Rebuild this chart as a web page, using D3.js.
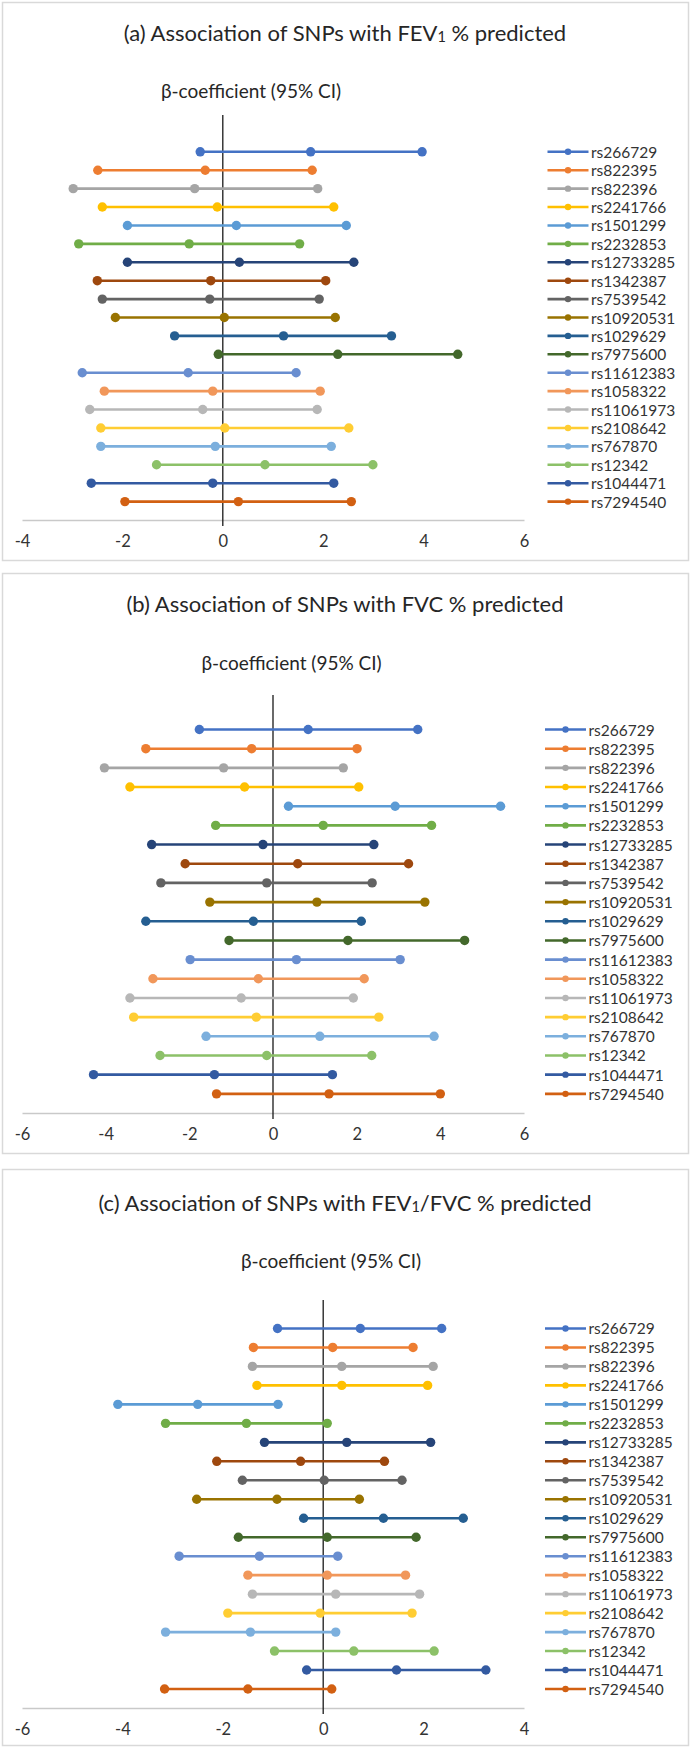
<!DOCTYPE html>
<html>
<head>
<meta charset="utf-8">
<script src="https://cdn.jsdelivr.net/npm/d3@7"></script>
<style>
  html, body { margin: 0; padding: 0; background: #fff; }
  svg { display: block; }
  text { font-family: Lato, "Open Sans", "Noto Sans", sans-serif; }
</style>
</head>
<body>
<svg id="chart" width="691" height="1747"></svg>
<script>
// ---- Data ----
const snps = ["rs266729","rs822395","rs822396","rs2241766","rs1501299","rs2232853","rs12733285","rs1342387","rs7539542","rs10920531","rs1029629","rs7975600","rs11612383","rs1058322","rs11061973","rs2108642","rs767870","rs12342","rs1044471","rs7294540"];

const seriesColors = ["#4472C4","#ED7D31","#A5A5A5","#FFC000","#5B9BD5","#70AD47","#264478","#9E480E","#636363","#997300","#255E91","#43682B","#698ED0","#F1975A","#B7B7B7","#FFCD33","#7CAFDD","#8CC168","#335AA1","#D26012"];

// (a) FEV1 % predicted
const fev1Lower = [-0.45,-2.49,-2.98,-2.40,-1.90,-2.87,-1.90,-2.50,-2.40,-2.14,-0.96,-0.09,-2.80,-2.36,-2.65,-2.43,-2.43,-1.32,-2.62,-1.95];
const fev1Beta  = [1.75,-0.35,-0.56,-0.11,0.27,-0.67,0.33,-0.24,-0.26,0.03,1.21,2.29,-0.69,-0.20,-0.40,0.04,-0.15,0.84,-0.20,0.31];
const fev1Upper = [3.97,1.78,1.89,2.21,2.46,1.53,2.61,2.05,1.92,2.24,3.36,4.68,1.46,1.94,1.88,2.51,2.16,2.99,2.21,2.56];
const fev1Ticks = [-4,-2,0,2,4,6];

// (b) FVC % predicted
const fvcLower = [-1.76,-3.04,-4.03,-3.42,0.37,-1.37,-2.90,-2.10,-2.68,-1.51,-3.04,-1.05,-1.98,-2.87,-3.42,-3.33,-1.60,-2.70,-4.29,-1.35];
const fvcBeta  = [0.84,-0.51,-1.18,-0.68,2.92,1.20,-0.24,0.59,-0.15,1.05,-0.47,1.79,0.56,-0.35,-0.76,-0.40,1.12,-0.15,-1.40,1.34];
const fvcUpper = [3.46,2.01,1.68,2.05,5.44,3.79,2.41,3.24,2.37,3.63,2.11,4.58,3.04,2.18,1.92,2.53,3.85,2.36,1.42,4.00];
const fvcTicks = [-6,-4,-2,0,2,4,6];

// (c) FEV1/FVC % predicted
const ratioLower = [-0.91,-1.39,-1.41,-1.32,-4.09,-3.14,-1.17,-2.12,-1.61,-2.52,-0.39,-1.69,-2.87,-1.50,-1.41,-1.90,-3.14,-0.97,-0.33,-3.16];
const ratioBeta  = [0.74,0.19,0.37,0.37,-2.50,-1.53,0.47,-0.45,0.02,-0.92,1.20,0.08,-1.27,0.08,0.25,-0.06,-1.45,0.61,1.46,-1.50];
const ratioUpper = [2.36,1.79,2.19,2.08,-0.90,0.08,2.14,1.22,1.57,0.72,2.79,1.85,0.29,1.64,1.92,1.77,0.25,2.21,3.24,0.17];
const ratioTicks = [-6,-4,-2,0,2,4];

const yLabel = "β-coefficient (95% CI)";

// ---- Layout (per panel) ----
const panels = [
  { titlePre: "(a) Association of SNPs with FEV", sub: "1", titlePost: " % predicted",
    lower: fev1Lower, beta: fev1Beta, upper: fev1Upper, ticks: fev1Ticks,
    frame: [2, 560], titleY: 32, labelX: 251, labelY: 90,
    x0: 22, x1: 524, top: 115, axisY: 520, yMax: 22, legX: [547.5, 588.5, 591] },
  { titlePre: "(b) Association of SNPs with FVC % predicted", sub: null, titlePost: "",
    lower: fvcLower, beta: fvcBeta, upper: fvcUpper, ticks: fvcTicks,
    frame: [573, 1153], titleY: 603, labelX: 291.5, labelY: 662,
    x0: 22, x1: 524, top: 695, axisY: 1113, yMax: 21.8, legX: [545, 586, 588.5] },
  { titlePre: "(c) Association of SNPs with FEV", sub: "1", titlePost: "/FVC % predicted",
    lower: ratioLower, beta: ratioBeta, upper: ratioUpper, ticks: ratioTicks,
    frame: [1169, 1745], titleY: 1202, labelX: 331, labelY: 1260,
    x0: 22, x1: 524, top: 1300, axisY: 1708, yMax: 21.5, legX: [545, 586, 588.5] }
];

const svg = d3.select("#chart");

panels.forEach(p => {
  const g = svg.append("g");

  // frame
  g.append("rect")
    .attr("x", 2.5).attr("y", p.frame[0] + 0.5)
    .attr("width", 686).attr("height", p.frame[1] - p.frame[0])
    .attr("fill", "#fff").attr("stroke", "#d9d9d9").attr("stroke-width", 1.5);

  // title
  const t = g.append("text")
    .attr("x", 345).attr("y", p.titleY)
    .attr("text-anchor", "middle").attr("dominant-baseline", "central")
    .attr("font-size", 22).attr("fill", "#262626");
  t.append("tspan").text(p.titlePre);
  if (p.sub) {
    t.append("tspan").attr("font-size", 14.5).attr("dy", 4).text(p.sub);
    t.append("tspan").attr("dy", -4).text(p.titlePost);
  }

  // axis title
  g.append("text")
    .attr("x", p.labelX).attr("y", p.labelY)
    .attr("text-anchor", "middle").attr("dominant-baseline", "central")
    .attr("font-size", 19).attr("fill", "#262626")
    .text(yLabel);

  const x = d3.scaleLinear()
    .domain(d3.extent(p.ticks))
    .range([p.x0, p.x1]);
  const y = d3.scaleLinear()
    .domain([0, p.yMax])
    .range([p.axisY, p.top]);
  const rowVal = i => snps.length - i;

  // horizontal axis line + tick labels
  const ax = g.append("g").attr("transform", `translate(0,${p.axisY})`)
    .call(d3.axisBottom(x).tickValues(p.ticks).tickSize(0).tickPadding(15)
      .tickFormat(d3.format("d")));
  ax.select(".domain").attr("stroke", "#c9c9c9").attr("stroke-width", 1.5);
  ax.selectAll("text")
    .attr("font-family", "Lato, 'Open Sans', sans-serif")
    .attr("font-size", 16.5).attr("fill", "#333")
    .text(d => d < 0 ? "-" + Math.abs(d) : d);

  // vertical zero line
  g.append("line")
    .attr("x1", x(0)).attr("x2", x(0))
    .attr("y1", p.top).attr("y2", p.axisY + 6)
    .attr("stroke", "#1a1a1a").attr("stroke-width", 1.3);

  // series
  const rows = snps.map((s, i) => ({
    name: s, i, color: seriesColors[i],
    pts: [p.lower[i], p.beta[i], p.upper[i]]
  }));

  const line = d3.line().x(d => x(d.v)).y(d => y(d.r));

  const sg = g.selectAll("g.series").data(rows).join("g").attr("class", "series");
  sg.append("path")
    .attr("d", d => line(d.pts.map(v => ({ v, r: rowVal(d.i) }))))
    .attr("fill", "none").attr("stroke", d => d.color).attr("stroke-width", 2.6);
  sg.selectAll("circle").data(d => d.pts.map(v => ({ v, r: rowVal(d.i), color: d.color })))
    .join("circle")
    .attr("cx", d => x(d.v)).attr("cy", d => y(d.r)).attr("r", 4.7)
    .attr("fill", d => d.color);

  // legend
  const lg = g.selectAll("g.leg").data(rows).join("g").attr("class", "leg")
    .attr("transform", d => `translate(0,${y(rowVal(d.i))})`);
  lg.append("line")
    .attr("x1", p.legX[0]).attr("x2", p.legX[1])
    .attr("stroke", d => d.color).attr("stroke-width", 2.6);
  lg.append("circle")
    .attr("cx", (p.legX[0] + p.legX[1]) / 2).attr("r", 3.2)
    .attr("fill", d => d.color);
  lg.append("text")
    .attr("x", p.legX[2]).attr("dominant-baseline", "central")
    .attr("font-size", 15.5).attr("fill", "#333")
    .text(d => d.name);
});
</script>
</body>
</html>
